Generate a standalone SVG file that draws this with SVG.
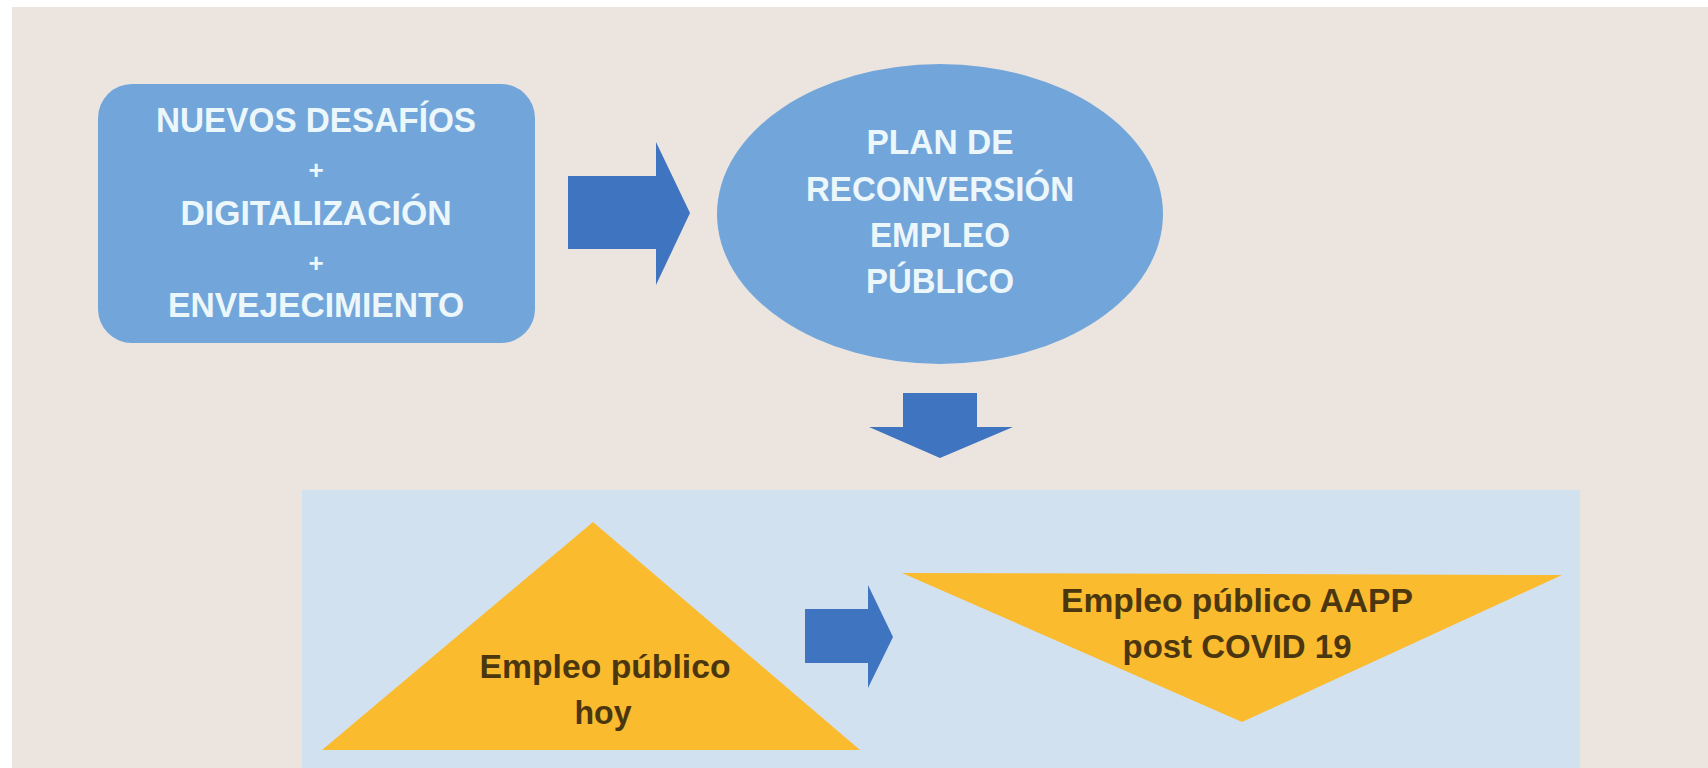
<svg xmlns="http://www.w3.org/2000/svg" width="1708" height="768" viewBox="0 0 1708 768">
<style>
.blue{fill:#72A6DA}
.arrow{fill:#3F74C1}
.tri{fill:#FBBB2E}
.wt{font-family:"Liberation Sans",Arial,sans-serif;font-weight:bold;font-size:35px;fill:#ECF7FB;text-anchor:middle}
.pl{font-size:26px}
.dt{font-family:"Liberation Sans",Arial,sans-serif;font-weight:bold;font-size:34px;fill:#4A3710;text-anchor:middle}
</style>
<rect x="0" y="0" width="1708" height="768" fill="#FFFFFF"/>
<rect x="12" y="7" width="1696" height="761" fill="#ECE5DF"/>
<rect id="panel" x="302" y="490" width="1278" height="278" fill="#D2E1F0"/>
<g id="node-desafios">
<rect class="blue" x="98" y="84" width="437" height="259" rx="34" ry="34"/>
<text class="wt" x="316" y="132" textLength="320" lengthAdjust="spacingAndGlyphs">NUEVOS DESAFÍOS</text>
<text class="wt pl" x="316" y="179">+</text>
<text class="wt" x="316" y="225" textLength="271" lengthAdjust="spacingAndGlyphs">DIGITALIZACIÓN</text>
<text class="wt pl" x="316" y="272">+</text>
<text class="wt" x="316" y="317" textLength="296" lengthAdjust="spacingAndGlyphs">ENVEJECIMIENTO</text>
</g>
<g id="node-plan">
<ellipse class="blue" cx="940" cy="214" rx="223" ry="150"/>
<text class="wt" x="940" y="154" textLength="147" lengthAdjust="spacingAndGlyphs">PLAN DE</text>
<text class="wt" x="940" y="201" textLength="268" lengthAdjust="spacingAndGlyphs">RECONVERSIÓN</text>
<text class="wt" x="940" y="247" textLength="140" lengthAdjust="spacingAndGlyphs">EMPLEO</text>
<text class="wt" x="940" y="293" textLength="148" lengthAdjust="spacingAndGlyphs">PÚBLICO</text>
</g>
<g id="node-hoy">
<polygon class="tri" points="593,522 860,750 322,750"/>
<text class="dt" x="605" y="678" textLength="251" lengthAdjust="spacingAndGlyphs">Empleo público</text>
<text class="dt" x="603" y="724" textLength="57" lengthAdjust="spacingAndGlyphs">hoy</text>
</g>
<g id="node-post">
<polygon class="tri" points="902,573 1562,575 1242,722"/>
<text class="dt" x="1237" y="612" textLength="352" lengthAdjust="spacingAndGlyphs">Empleo público AAPP</text>
<text class="dt" x="1237" y="658" textLength="229" lengthAdjust="spacingAndGlyphs">post COVID 19</text>
</g>
<g id="connectors">
<polygon class="arrow" points="568,176 656,176 656,142 690,213 656,285 656,249 568,249"/>
<polygon class="arrow" points="903,393 977,393 977,427 1013,427 940,458 869,427 903,427"/>
<polygon class="arrow" points="805,609 868,609 868,585 893,637 868,688 868,663 805,663"/>
</g>
</svg>
